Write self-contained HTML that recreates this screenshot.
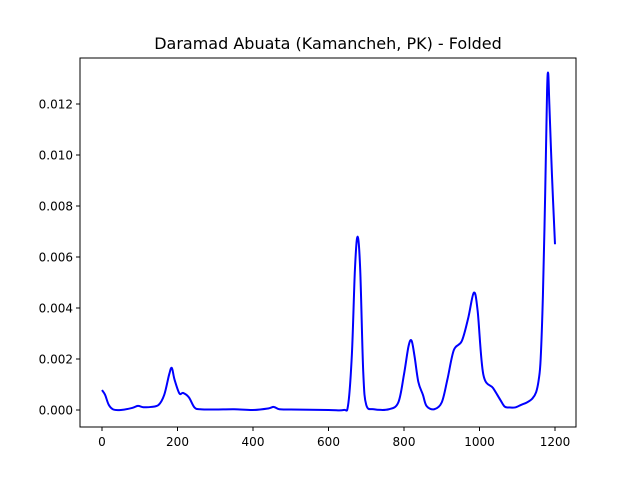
<!DOCTYPE html>
<html><head><meta charset="utf-8"><style>
body{margin:0;background:#fff;font-family:"Liberation Sans","DejaVu Sans",sans-serif}
svg text{font-family:"DejaVu Sans","Liberation Sans",sans-serif}
</style></head><body>
<svg id="c" width="640" height="480" viewBox="0 0 640 480">
<rect width="640" height="480" fill="#fff"/>
<text x="328" y="49" text-anchor="middle" font-size="16">Daramad Abuata (Kamancheh, PK) - Folded</text>
<g id="ticks"></g>
<path id="line" fill="none" stroke="#0000ff" stroke-width="2" stroke-linejoin="round"/>
<rect x="80" y="58" width="496" height="369" fill="none" stroke="#000" stroke-width="1"/>
</svg>
<script>
const xs=[0,8,18,30,50,80,95,110,130,150,165,178,185,192,205,215,230,245,260,300,350,400,440,455,470,500,600,640,652,662,670,677,684,692,700,720,760,785,800,812,820,828,838,850,860,880,900,915,932,953,970,985,995,1010,1036,1055,1067,1080,1094,1110,1126,1140,1150,1157,1162,1168,1174,1179,1182,1185,1192,1200];
const ys=[0.00078,0.0006,0.0002,0.00002,0,0.00008,0.00016,0.00011,0.00012,0.0002,0.0006,0.0014,0.00165,0.0012,0.00065,0.00067,0.0005,0.0001,0.00003,0.00002,0.00003,0,0.00006,0.00012,0.00003,0.00002,0,0,0.0002,0.0022,0.0055,0.0068,0.0055,0.0015,0.0002,0.00003,0.00003,0.0003,0.0014,0.0025,0.00272,0.0021,0.0011,0.0006,0.00015,0.00003,0.0003,0.0012,0.00235,0.0027,0.0036,0.0046,0.0039,0.0014,0.00086,0.0004,0.00013,0.0001,0.0001,0.0002,0.0003,0.00045,0.0007,0.0012,0.002,0.0045,0.0085,0.0125,0.0132,0.012,0.0092,0.0065];
const xTicks=[0,200,400,600,800,1000,1200];
const yTicks=[0,0.002,0.004,0.006,0.008,0.010,0.012];
const X=v=>102+v*(453/1200), Y=v=>410-v*25500;
const g=document.getElementById('ticks');
const ns='http://www.w3.org/2000/svg';
xTicks.forEach(t=>{
 const l=document.createElementNS(ns,'line');
 l.setAttribute('x1',X(t));l.setAttribute('x2',X(t));l.setAttribute('y1',427);l.setAttribute('y2',431);l.setAttribute('stroke','#000');
 
 
 g.appendChild(l);
 const tx=document.createElementNS(ns,'text');
 tx.setAttribute('x',X(t));tx.setAttribute('y',446);tx.setAttribute('text-anchor','middle');tx.setAttribute('font-size','12');tx.textContent=t;
 
 
 g.appendChild(tx);
});
yTicks.forEach(t=>{
 const l=document.createElementNS(ns,'line');
 l.setAttribute('x1',76);l.setAttribute('x2',80);l.setAttribute('y1',Y(t));l.setAttribute('y2',Y(t));l.setAttribute('stroke','#000');
 
 
 g.appendChild(l);
 const tx=document.createElementNS(ns,'text');
 tx.setAttribute('x',73);tx.setAttribute('y',Y(t)+4.5);tx.setAttribute('text-anchor','end');tx.setAttribute('font-size','12');tx.textContent=t.toFixed(3);
 
 
 g.appendChild(tx);
});
const P=xs.map((x,i)=>[X(x),Y(ys[i])]);
let d='M'+P[0][0]+','+P[0][1];
for(let i=0;i<P.length-1;i++){
 const p0=P[Math.max(0,i-1)],p1=P[i],p2=P[i+1],p3=P[Math.min(P.length-1,i+2)];
 const c1=[p1[0]+(p2[0]-p0[0])/6,p1[1]+(p2[1]-p0[1])/6];
 const c2=[p2[0]-(p3[0]-p1[0])/6,p2[1]-(p3[1]-p1[1])/6];
 d+=`C${c1[0]},${c1[1]} ${c2[0]},${c2[1]} ${p2[0]},${p2[1]}`;
}
document.getElementById('line').setAttribute('d',d);
</script>
</body></html>
